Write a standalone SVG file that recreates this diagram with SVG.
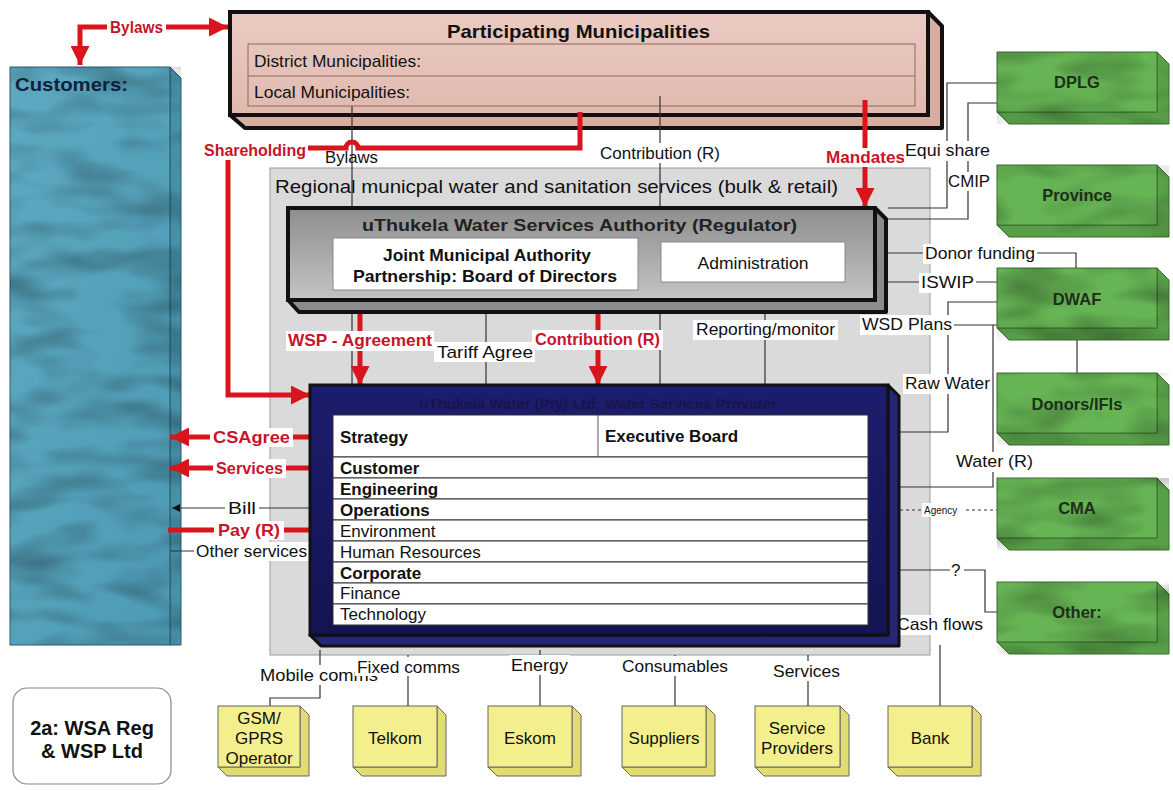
<svg xmlns="http://www.w3.org/2000/svg" width="1173" height="790" viewBox="0 0 1173 790">
  <style>
    text { font-family: "Liberation Sans", Arial, sans-serif; fill: #111; font-size: 17px; }
    .b { font-weight: bold; }
    .red { fill: #c8142a; font-weight: bold; font-size: 16.5px; }
    .mid { text-anchor: middle; }
    .thin { fill: none; stroke: #333; stroke-width: 1.2; }
    .redline { fill: none; stroke: #d8151b; stroke-width: 5; }
    .bg { fill: #fff; }
    .frame { stroke: #111; stroke-width: 4; }
    .row { fill: #fff; stroke: #333; stroke-width: 1; }
    .green { fill: #66b454; stroke: #3c6e30; stroke-width: 1; }
    .green-side { fill: #58a048; stroke: #3c6e30; stroke-width: 1; }
    .yellow { fill: #f3ef8c; stroke: #666; stroke-width: 1; }
    .yellow-side { fill: #e2dd72; stroke: #666; stroke-width: 1; }
    .gtxt { font-size: 16.5px; font-weight: bold; fill: #1e2e1a; }
    .ytxt { font-size: 17px; fill: #111; }
  </style>
  <defs>
    <marker id="ra" viewBox="0 0 10 10" refX="10" refY="5" markerWidth="19" markerHeight="19" markerUnits="userSpaceOnUse" orient="auto-start-reverse">
      <path d="M0,0 L10,5 L0,10 z" fill="#d8151b"/>
    </marker>
    <marker id="ka" viewBox="0 0 10 10" refX="10" refY="5" markerWidth="8" markerHeight="8" markerUnits="userSpaceOnUse" orient="auto-start-reverse">
      <path d="M0,0 L10,5 L0,10 z" fill="#111"/>
    </marker>
    <linearGradient id="gPink" x1="0" y1="0" x2="0" y2="1">
      <stop offset="0" stop-color="#ebcbc2"/>
      <stop offset="1" stop-color="#e0b9ae"/>
    </linearGradient>
    <linearGradient id="gBlue" x1="0" y1="0" x2="1" y2="1">
      <stop offset="0" stop-color="#5ca9c1"/>
      <stop offset="1" stop-color="#4d9ab4"/>
    </linearGradient>
    <linearGradient id="gReg" x1="0" y1="0" x2="0" y2="1">
      <stop offset="0" stop-color="#8e8e8e"/>
      <stop offset="1" stop-color="#c4c4c4"/>
    </linearGradient>
    <linearGradient id="gNavy" x1="0" y1="0" x2="0" y2="1">
      <stop offset="0" stop-color="#1d1d6e"/>
      <stop offset="1" stop-color="#141452"/>
    </linearGradient>
    <!-- soft mottled shading for the painted boxes -->
    <filter id="mottle" x="0" y="0" width="1" height="1">
      <feTurbulence type="fractalNoise" baseFrequency="0.015 0.04" numOctaves="2" seed="4"/>
      <feColorMatrix type="matrix" values="0 0 0 0 0  0 0 0 0 0  0 0 0 0 0  0 0 0 -0.6 0.36"/>
      <feComposite in2="SourceGraphic" operator="in"/>
    </filter>
  </defs>

  <rect width="1173" height="790" fill="#fff"/>

  <!-- Regional services area -->
  <g id="regional">
    <rect x="270" y="168" width="660" height="487" fill="#dadada" stroke="#9a9a9a" stroke-width="1"/>
    <text x="275" y="193" textLength="563" lengthAdjust="spacingAndGlyphs" style="font-size:19px">Regional municpal water and sanitation services (bulk &amp; retail)</text>
  </g>

  <!-- Customers -->
  <g id="customers">
    <polygon points="170,67 181,78 181,645 170,645" fill="#4690a8" stroke="#2b5d70" stroke-width="1"/>
    <rect x="10" y="67" width="160" height="578" fill="url(#gBlue)" stroke="#2b5d70" stroke-width="1"/>
    <rect x="10" y="67" width="171" height="578" fill="#000" filter="url(#mottle)"/>
    <text x="15" y="91" class="b" textLength="113" lengthAdjust="spacingAndGlyphs" style="font-size:19px;fill:#10203a">Customers:</text>
  </g>

  <!-- Participating Municipalities -->
  <g id="municipalities">
    <polygon points="928,12 942,26 942,128 245,128 230,115 928,115" fill="#d8aea2" stroke="#111" stroke-width="4" stroke-linejoin="round"/>
    <rect x="230" y="12" width="698" height="103" fill="url(#gPink)" class="frame"/>
    <text x="447" y="38" class="b" textLength="263" lengthAdjust="spacingAndGlyphs" style="font-size:19px">Participating Municipalities</text>
    <rect x="248" y="44" width="667" height="62" fill="none" stroke="#8a6a63" stroke-width="1"/>
    <line x1="248" y1="76" x2="915" y2="76" stroke="#8a6a63" stroke-width="1"/>
    <text x="254" y="67" textLength="167" lengthAdjust="spacingAndGlyphs">District Municipalities:</text>
    <text x="254" y="98" textLength="156" lengthAdjust="spacingAndGlyphs">Local Municipalities:</text>
  </g>

  <!-- Connectors -->
  <g id="connectors">
    <!-- thin black lines -->
    <path class="thin" d="M352,106 V385"/>
    <path class="thin" d="M660,96 V385"/>
    <path class="thin" d="M486,300 V385"/>
    <path class="thin" d="M765,300 V385"/>
    <path class="thin" d="M997,83 H947 V208 H888"/>
    <path class="thin" d="M997,103 H968 V219 H885"/>
    <path class="thin" d="M885,253 H1076 V268"/>
    <path class="thin" d="M885,282 H997"/>
    <path class="thin" d="M897,325 H1000"/>
    <path class="thin" d="M997,302 H948 V432 H900"/>
    <path class="thin" d="M993,325 V487 H900"/>
    <path class="thin" d="M1077,340 V373"/>
    <path class="thin" d="M900,510 H997" stroke-dasharray="3,3"/>
    <path class="thin" d="M900,570 H985 V612 H997"/>
    <path class="thin" d="M940,645 V706"/>
    <path class="thin" d="M320,650 V698 H270 V706"/>
    <path class="thin" d="M408,655 V706"/>
    <path class="thin" d="M540,650 V706"/>
    <path class="thin" d="M675,655 V706"/>
    <path class="thin" d="M808,655 V706"/>
    <path class="thin" d="M310,508 H172" marker-end="url(#ka)"/>
    <path class="thin" d="M170,551 H310"/>

    <!-- red flows -->
    <path class="redline" d="M80,65 V27 H228" marker-start="url(#ra)" marker-end="url(#ra)"/>
    <path class="redline" d="M580,112 V148 H358 A6,6 0 0 0 346,148 H300"/>
    <path class="redline" d="M228,160 V395 H310" marker-end="url(#ra)"/>
    <path class="redline" d="M865,100 V207" marker-end="url(#ra)"/>
    <path class="redline" d="M360,293 V385" marker-start="url(#ra)" marker-end="url(#ra)"/>
    <path class="redline" d="M598,293 V385" marker-start="url(#ra)" marker-end="url(#ra)"/>
    <path class="redline" d="M170,437 H330" marker-start="url(#ra)" marker-end="url(#ra)"/>
    <path class="redline" d="M335,468 H170" marker-end="url(#ra)"/>
    <path class="redline" d="M168,530 H330" marker-end="url(#ra)"/>

    <!-- labels on connectors -->
    <rect class="bg" x="107" y="18" width="59" height="19"/>
    <text x="110" y="33" class="red" textLength="53" lengthAdjust="spacingAndGlyphs">Bylaws</text>
    <rect class="bg" x="202" y="141" width="106" height="19"/>
    <text x="204" y="156" class="red" textLength="102" lengthAdjust="spacingAndGlyphs">Shareholding</text>
    <text x="325" y="163" textLength="53" lengthAdjust="spacingAndGlyphs">Bylaws</text>
    <rect class="bg" x="597" y="143" width="126" height="20"/>
    <text x="600" y="159" textLength="120" lengthAdjust="spacingAndGlyphs">Contribution (R)</text>
    <rect class="bg" x="824" y="148" width="83" height="19"/>
    <text x="826" y="163" class="red" textLength="79" lengthAdjust="spacingAndGlyphs">Mandates</text>
    <rect class="bg" x="904" y="141" width="88" height="20"/>
    <text x="905" y="156" textLength="85" lengthAdjust="spacingAndGlyphs">Equi share</text>
    <rect class="bg" x="948" y="172" width="44" height="19"/>
    <text x="948" y="187" textLength="42" lengthAdjust="spacingAndGlyphs">CMIP</text>
    <rect class="bg" x="923" y="244" width="114" height="20"/>
    <text x="925" y="259" textLength="110" lengthAdjust="spacingAndGlyphs">Donor funding</text>
    <rect class="bg" x="919" y="273" width="57" height="20"/>
    <text x="921" y="288" textLength="53" lengthAdjust="spacingAndGlyphs">ISWIP</text>
    <rect class="bg" x="286" y="331" width="148" height="20"/>
    <text x="288" y="346" class="red" textLength="144" lengthAdjust="spacingAndGlyphs">WSP - Agreement</text>
    <rect class="bg" x="434" y="342" width="101" height="20"/>
    <text x="437" y="358" textLength="96" lengthAdjust="spacingAndGlyphs">Tariff  Agree</text>
    <rect class="bg" x="532" y="330" width="131" height="20"/>
    <text x="535" y="345" class="red" textLength="125" lengthAdjust="spacingAndGlyphs">Contribution  (R)</text>
    <rect class="bg" x="693" y="320" width="145" height="20"/>
    <text x="696" y="335" textLength="139" lengthAdjust="spacingAndGlyphs">Reporting/monitor</text>
    <rect class="bg" x="860" y="315" width="94" height="20"/>
    <text x="862" y="330" textLength="90" lengthAdjust="spacingAndGlyphs">WSD Plans</text>
    <rect class="bg" x="903" y="374" width="89" height="20"/>
    <text x="905" y="389" textLength="85" lengthAdjust="spacingAndGlyphs">Raw Water</text>
    <rect class="bg" x="954" y="452" width="81" height="20"/>
    <text x="956" y="467" textLength="77" lengthAdjust="spacingAndGlyphs">Water (R)</text>
    <rect class="bg" x="922" y="503" width="44" height="14"/>
    <text x="924" y="514" style="font-size:10px">Agency</text>
    <rect class="bg" x="950" y="561" width="14" height="18"/>
    <text x="951" y="576">?</text>
    <rect class="bg" x="895" y="615" width="90" height="20"/>
    <text x="897" y="630" textLength="86" lengthAdjust="spacingAndGlyphs">Cash flows</text>
    <rect class="bg" x="210" y="428" width="83" height="19"/>
    <text x="213" y="443" class="red" textLength="77" lengthAdjust="spacingAndGlyphs">CSAgree</text>
    <rect class="bg" x="213" y="459" width="73" height="19"/>
    <text x="216" y="474" class="red" textLength="67" lengthAdjust="spacingAndGlyphs">Services</text>
    <rect class="bg" x="225" y="500" width="34" height="18"/>
    <text x="228" y="514" textLength="28" lengthAdjust="spacingAndGlyphs">Bill</text>
    <rect class="bg" x="214" y="521" width="70" height="19"/>
    <text x="218" y="536" class="red" textLength="62" lengthAdjust="spacingAndGlyphs">Pay  (R)</text>
    <rect class="bg" x="194" y="542" width="115" height="19"/>
    <text x="196" y="557" textLength="111" lengthAdjust="spacingAndGlyphs">Other services</text>
    <rect class="bg" x="258" y="665" width="120" height="20"/>
    <text x="260" y="681" textLength="118" lengthAdjust="spacingAndGlyphs">Mobile  comms</text>
    <rect class="bg" x="355" y="657" width="107" height="19"/>
    <text x="357" y="673" textLength="103" lengthAdjust="spacingAndGlyphs">Fixed comms</text>
    <rect class="bg" x="509" y="655" width="61" height="20"/>
    <text x="511" y="671" textLength="57" lengthAdjust="spacingAndGlyphs">Energy</text>
    <rect class="bg" x="620" y="656" width="110" height="20"/>
    <text x="622" y="672" textLength="106" lengthAdjust="spacingAndGlyphs">Consumables</text>
    <rect class="bg" x="771" y="661" width="71" height="20"/>
    <text x="773" y="677" textLength="67" lengthAdjust="spacingAndGlyphs">Services</text>
  </g>

  <!-- Regulator -->
  <g id="regulator">
    <polygon points="875,208 886,219 886,312 299,312 288,300 875,300" fill="#8c8c8c" stroke="#111" stroke-width="4" stroke-linejoin="round"/>
    <rect x="288" y="208" width="587" height="92" fill="url(#gReg)" class="frame"/>
    <text x="362" y="231" class="b" textLength="435" lengthAdjust="spacingAndGlyphs" style="font-size:16.5px;fill:#222">uThukela Water Services Authority (Regulator)</text>
  </g>
  <g id="board">
    <rect x="333" y="238" width="305" height="52" fill="#fff" stroke="#888" stroke-width="1"/>
    <text x="487" y="261" class="b mid" textLength="208" lengthAdjust="spacingAndGlyphs">Joint Municipal Authority</text>
    <text x="485" y="282" class="b mid" textLength="264" lengthAdjust="spacingAndGlyphs">Partnership: Board of Directors</text>
  </g>
  <g id="administration">
    <rect x="661" y="242" width="184" height="40" fill="#fff" stroke="#888" stroke-width="1"/>
    <text x="753" y="269" class="mid" textLength="111" lengthAdjust="spacingAndGlyphs">Administration</text>
  </g>

  <!-- Water Services Provider -->
  <g id="provider">
    <polygon points="888,385 899,396 899,646 321,646 310,635 888,635" fill="#262678" stroke="#111" stroke-width="3" stroke-linejoin="round"/>
    <rect x="310" y="385" width="578" height="250" fill="url(#gNavy)" stroke="#111" stroke-width="3"/>
    <text x="598" y="409" class="b mid" style="font-size:15px;fill:#15154f">uThukela Water (Pty) Ltd: Water Services Provider</text>
    <rect x="333" y="415" width="535" height="42" class="row"/>
    <line x1="598" y1="415" x2="598" y2="457" stroke="#555" stroke-width="1"/>
    <text x="340" y="443" class="b">Strategy</text>
    <text x="605" y="442" class="b">Executive Board</text>
    <rect x="333" y="457" width="535" height="21" class="row"/>
    <text x="340" y="474" class="b">Customer</text>
    <rect x="333" y="478" width="535" height="21" class="row"/>
    <text x="340" y="495" class="b">Engineering</text>
    <rect x="333" y="499" width="535" height="21" class="row"/>
    <text x="340" y="516" class="b">Operations</text>
    <rect x="333" y="520" width="535" height="21" class="row"/>
    <text x="340" y="537">Environment</text>
    <rect x="333" y="541" width="535" height="21" class="row"/>
    <text x="340" y="558">Human Resources</text>
    <rect x="333" y="562" width="535" height="21" class="row"/>
    <text x="340" y="579" class="b">Corporate</text>
    <rect x="333" y="583" width="535" height="21" class="row"/>
    <text x="340" y="599">Finance</text>
    <rect x="333" y="604" width="535" height="21" class="row"/>
    <text x="340" y="620">Technology</text>
  </g>

  <!-- Government and other stakeholders -->
  <g id="dplg">
    <polygon class="green-side" points="1157,52 1169,64 1169,124 1009,124 997,112 1157,112"/>
    <rect class="green" x="997" y="52" width="160" height="60"/>
    <rect x="997" y="52" width="172" height="72" fill="#000" filter="url(#mottle)"/>
    <text x="1077" y="88" class="gtxt mid">DPLG</text>
  </g>
  <g id="province">
    <polygon class="green-side" points="1157,165 1169,177 1169,237 1009,237 997,225 1157,225"/>
    <rect class="green" x="997" y="165" width="160" height="60"/>
    <rect x="997" y="165" width="172" height="72" fill="#000" filter="url(#mottle)"/>
    <text x="1077" y="201" class="gtxt mid">Province</text>
  </g>
  <g id="dwaf">
    <polygon class="green-side" points="1157,268 1169,280 1169,340 1009,340 997,328 1157,328"/>
    <rect class="green" x="997" y="268" width="160" height="60"/>
    <rect x="997" y="268" width="172" height="72" fill="#000" filter="url(#mottle)"/>
    <text x="1077" y="305" class="gtxt mid">DWAF</text>
  </g>
  <g id="donors">
    <polygon class="green-side" points="1157,373 1169,385 1169,445 1009,445 997,433 1157,433"/>
    <rect class="green" x="997" y="373" width="160" height="60"/>
    <rect x="997" y="373" width="172" height="72" fill="#000" filter="url(#mottle)"/>
    <text x="1077" y="410" class="gtxt mid">Donors/IFIs</text>
  </g>
  <g id="cma">
    <polygon class="green-side" points="1157,478 1169,490 1169,550 1009,550 997,538 1157,538"/>
    <rect class="green" x="997" y="478" width="160" height="60"/>
    <rect x="997" y="478" width="172" height="72" fill="#000" filter="url(#mottle)"/>
    <text x="1077" y="514" class="gtxt mid">CMA</text>
  </g>
  <g id="other">
    <polygon class="green-side" points="1157,582 1169,594 1169,654 1009,654 997,642 1157,642"/>
    <rect class="green" x="997" y="582" width="160" height="60"/>
    <rect x="997" y="582" width="172" height="72" fill="#000" filter="url(#mottle)"/>
    <text x="1077" y="618" class="gtxt mid">Other:</text>
  </g>

  <!-- Suppliers row -->
  <g id="gsm">
    <polygon class="yellow-side" points="300,706 309,715 309,776 227,776 218,767 300,767"/>
    <rect class="yellow" x="218" y="706" width="82" height="61"/>
    <text x="259" y="724" class="ytxt mid">GSM/</text>
    <text x="259" y="744" class="ytxt mid">GPRS</text>
    <text x="259" y="764" class="ytxt mid">Operator</text>
  </g>
  <g id="telkom">
    <polygon class="yellow-side" points="437,706 446,715 446,776 362,776 353,767 437,767"/>
    <rect class="yellow" x="353" y="706" width="84" height="61"/>
    <text x="395" y="744" class="ytxt mid">Telkom</text>
  </g>
  <g id="eskom">
    <polygon class="yellow-side" points="572,706 581,715 581,776 497,776 488,767 572,767"/>
    <rect class="yellow" x="488" y="706" width="84" height="61"/>
    <text x="530" y="744" class="ytxt mid">Eskom</text>
  </g>
  <g id="suppliers">
    <polygon class="yellow-side" points="706,706 715,715 715,776 631,776 622,767 706,767"/>
    <rect class="yellow" x="622" y="706" width="84" height="61"/>
    <text x="664" y="744" class="ytxt mid">Suppliers</text>
  </g>
  <g id="service-providers">
    <polygon class="yellow-side" points="840,706 849,715 849,776 764,776 755,767 840,767"/>
    <rect class="yellow" x="755" y="706" width="85" height="61"/>
    <text x="797" y="734" class="ytxt mid">Service</text>
    <text x="797" y="754" class="ytxt mid">Providers</text>
  </g>
  <g id="bank">
    <polygon class="yellow-side" points="972,706 981,715 981,776 897,776 888,767 972,767"/>
    <rect class="yellow" x="888" y="706" width="84" height="61"/>
    <text x="930" y="744" class="ytxt mid">Bank</text>
  </g>

  <!-- Caption -->
  <g id="caption">
    <rect x="13" y="688" width="158" height="96" rx="14" fill="#fff" stroke="#888" stroke-width="1.2"/>
    <text x="92" y="735" class="b mid" style="font-size:20px">2a: WSA Reg</text>
    <text x="92" y="758" class="b mid" style="font-size:20px">&amp; WSP Ltd</text>
  </g>
</svg>
